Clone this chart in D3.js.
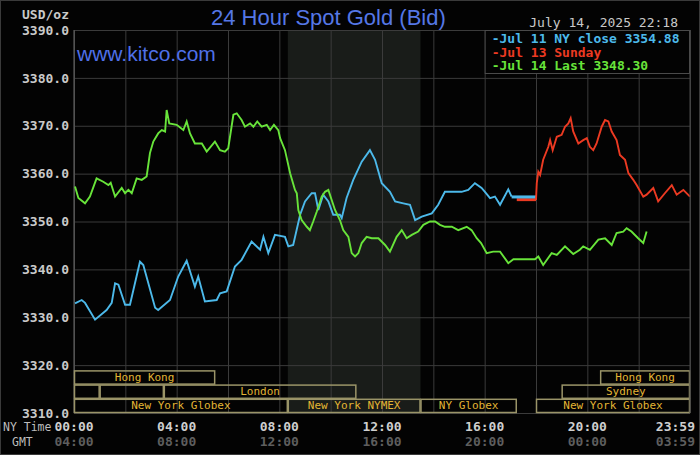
<!DOCTYPE html>
<html>
<head>
<meta charset="utf-8">
<script src="https://cdn.jsdelivr.net/npm/d3@7"></script>
<style>
  body { margin:0; background:#000; }
  svg { display:block; }
  .mono { font-family:"DejaVu Sans Mono", monospace; }
</style>
</head>
<body>
<div id="plot"></div>
<script>
// chart values (hour of NY day, price)
var yTicks = [3310, 3320, 3330, 3340, 3350, 3360, 3370, 3380, 3390];
var xTicks = [0, 4, 8, 12, 16, 20, 24];
var nyLabels = ['00:00', '04:00', '08:00', '12:00', '16:00', '20:00', '23:59'];
var gmtLabels = ['04:00', '08:00', '12:00', '16:00', '20:00', '00:00', '03:59'];
var gridHours = d3.range(0, 25, 2);

var jul11 = [
	[0.04,3332.9],[0.30,3333.6],[0.43,3333.0],[0.82,3329.5],[1.27,3331.5],[1.47,3333.0],
	[1.60,3337.1],[1.73,3336.8],[1.99,3332.6],[2.18,3332.6],[2.57,3341.6],[2.70,3340.9],
	[3.16,3332.0],[3.28,3331.5],[3.74,3333.6],[4.06,3338.5],[4.39,3341.8],[4.71,3336.4],
	[4.84,3338.5],[5.10,3333.3],[5.56,3333.6],[5.69,3335.0],[5.95,3335.4],[6.27,3340.6],
	[6.53,3342.0],[6.92,3345.8],[7.25,3344.1],[7.38,3346.8],[7.57,3343.4],[7.83,3347.2],
	[8.22,3346.8],[8.35,3344.8],[8.54,3345.1],[8.81,3351.4],[9.00,3354.2],[9.26,3355.9],
	[9.39,3355.9],[9.52,3352.4],[9.71,3355.6],[9.91,3354.2],[10.10,3351.4],[10.36,3351.4],
	[10.43,3350.7],[10.62,3354.9],[10.88,3358.7],[11.21,3362.5],[11.53,3364.9],[11.73,3362.9],
	[11.99,3358.0],[12.31,3356.2],[12.51,3354.2],[12.83,3353.8],[13.09,3353.5],[13.29,3350.3],
	[13.55,3351.0],[13.94,3351.7],[14.19,3353.5],[14.45,3356.2],[14.84,3356.2],[15.10,3356.2],
	[15.36,3356.6],[15.62,3358.0],[15.88,3357.0],[16.01,3356.2],[16.21,3354.9],[16.40,3355.2],
	[16.60,3353.5],[16.92,3356.7],[17.05,3355.2]
];
var jul11Close = 3354.88;
var closeSpan = [17.05, 18.0];
var sundaySpan = [17.25, 18.0];

var jul13 = [
	[18.00,3354.5],[18.03,3358.0],[18.09,3360.4],[18.16,3359.7],[18.28,3362.9],[18.48,3365.6],
	[18.55,3367.0],[18.65,3364.9],[18.81,3367.7],[19.00,3368.1],[19.13,3369.8],[19.26,3370.5],
	[19.35,3371.6],[19.45,3368.8],[19.65,3366.3],[19.84,3367.0],[19.98,3367.4],[20.10,3365.6],
	[20.23,3364.9],[20.36,3366.3],[20.56,3369.8],[20.69,3371.2],[20.82,3370.9],[20.95,3368.8],
	[21.14,3367.0],[21.27,3363.9],[21.47,3362.9],[21.60,3360.1],[21.79,3358.7],[21.92,3357.6],
	[22.18,3355.2],[22.31,3355.6],[22.57,3357.0],[22.76,3354.2],[23.02,3355.9],[23.29,3357.6],
	[23.48,3355.6],[23.74,3356.6],[24.00,3355.2]
];

var jul14 = [
	[0.04,3357.3],[0.17,3354.9],[0.43,3353.8],[0.62,3355.2],[0.88,3359.0],[1.14,3358.3],
	[1.34,3357.6],[1.43,3358.1],[1.60,3355.2],[1.86,3357.0],[1.99,3355.9],[2.12,3356.6],
	[2.25,3355.9],[2.44,3359.0],[2.64,3358.7],[2.83,3359.4],[2.96,3364.3],[3.09,3366.7],
	[3.28,3368.4],[3.42,3369.1],[3.55,3368.8],[3.61,3373.3],[3.71,3370.5],[4.00,3370.2],
	[4.26,3369.1],[4.39,3370.9],[4.52,3368.4],[4.71,3366.3],[4.98,3366.3],[5.17,3364.6],
	[5.49,3366.7],[5.69,3364.9],[5.88,3364.6],[6.01,3365.3],[6.21,3372.3],[6.34,3372.6],
	[6.53,3371.2],[6.66,3369.8],[6.86,3370.5],[6.99,3369.8],[7.14,3370.9],[7.31,3369.8],
	[7.51,3370.2],[7.64,3369.1],[7.79,3370.2],[7.96,3369.1],[8.03,3367.4],[8.22,3364.9],
	[8.42,3360.1],[8.61,3356.6],[8.68,3355.9],[8.74,3352.4],[8.87,3350.3],[9.07,3348.9],
	[9.19,3348.2],[9.32,3350.0],[9.46,3352.1],[9.65,3355.2],[9.78,3356.2],[9.91,3356.6],
	[10.04,3354.5],[10.17,3352.4],[10.36,3350.3],[10.49,3348.2],[10.69,3346.8],[10.82,3343.4],
	[10.95,3342.7],[11.08,3343.4],[11.21,3345.5],[11.40,3346.8],[11.60,3346.5],[11.86,3346.5],
	[12.12,3345.1],[12.31,3343.7],[12.57,3346.8],[12.77,3348.2],[12.96,3346.5],[13.16,3347.2],
	[13.41,3347.9],[13.61,3349.3],[13.87,3350.0],[14.07,3350.0],[14.26,3349.3],[14.45,3348.9],
	[14.72,3348.9],[14.97,3348.2],[15.30,3348.9],[15.49,3348.2],[15.69,3346.5],[15.86,3345.5],
	[16.08,3343.4],[16.33,3343.7],[16.60,3343.7],[16.92,3341.3],[17.12,3342.1],[17.96,3342.1],
	[18.09,3342.7],[18.28,3340.9],[18.61,3343.4],[18.81,3343.0],[19.13,3344.8],[19.45,3343.2],
	[19.71,3344.1],[19.84,3344.8],[20.10,3344.1],[20.43,3346.2],[20.69,3346.5],[20.95,3345.1],
	[21.14,3347.6],[21.40,3347.9],[21.53,3348.6],[21.72,3347.9],[21.98,3346.5],[22.18,3345.5],
	[22.31,3347.9]
];

var nymexHours = [8.33, 13.5];

// trading sessions: [row, start hour, end hour, name]
var sessions = [
	[0, 0, 5.5, 'Hong Kong'],
	[0, 20.5, 24, 'Hong Kong'],
	[1, 0, 1, ''],
	[1, 1, 3.5, ''],
	[1, 3.5, 11, 'London'],
	[1, 19, 24, 'Sydney'],
	[2, 0, 8.33, 'New York Globex'],
	[2, 8.33, 13.5, 'New York NYMEX'],
	[2, 13.5, 17.25, 'NY Globex'],
	[2, 18, 24, 'New York Globex']
];

var legendItems = [
	['-Jul 11 NY close 3354.88', '#4cb9ea'],
	['-Jul 13 Sunday', '#ec3a22'],
	['-Jul 14 Last 3348.30', '#68e43a']
];

//Set up the drawing environment here
var margin = {t:30, r:10, b:42, l:74};
var W = 700, H = 455;
var width = W - margin.l - margin.r,
	height = H - margin.t - margin.b;

var svg = d3.select('#plot')
	.append('svg')
	.attr('width', W)
	.attr('height', H);

svg.append('rect')
	.attr('x', 0.5).attr('y', 0.5)
	.attr('width', W-1).attr('height', H-1)
	.style('fill', '#030303')
	.style('stroke', '#3a3a3a');

var plot = svg.append('g')
	.attr('transform', 'translate(' + margin.l + ',' + margin.t + ')');

var x = d3.scaleLinear().domain([0, 24]).range([0, width]);
var y = d3.scaleLinear().domain([3310, 3390]).range([height, 0]);

// NYMEX hours shading
plot.append('rect')
	.attr('x', x(nymexHours[0]))
	.attr('y', 0)
	.attr('width', x(nymexHours[1]) - x(nymexHours[0]))
	.attr('height', height)
	.style('fill', '#191c19');

// grid
var yAxis = plot.append('g')
	.attr('class', 'mono')
	.call(d3.axisLeft(y).tickValues(yTicks).tickSize(-width).tickFormat(d3.format('.1f')));
yAxis.select('.domain').remove();
yAxis.selectAll('line').style('stroke', '#3b3b3b');
yAxis.selectAll('text')
	.attr('x', -5)
	.style('fill', '#c9c9c9')
	.style('font-size', '13px')
	.style('font-weight', 'bold');

var xGrid = plot.append('g')
	.call(d3.axisTop(x).tickValues(gridHours).tickSize(-height).tickFormat(''));
xGrid.select('.domain').remove();
xGrid.selectAll('line').style('stroke', '#3b3b3b');

plot.append('line')
	.attr('x1', 0).attr('x2', 0).attr('y1', 0).attr('y2', height)
	.style('stroke', '#6a6a6a');

// session bars
var rowH = 14.2;
var rowTop = height - 3*rowH;
var sess = plot.selectAll('.session')
	.data(sessions)
	.enter()
	.append('g')
	.attr('class', 'session');

sess.append('rect')
	.attr('x', function(d){ return x(d[1]) + 0.5; })
	.attr('y', function(d){ return rowTop + d[0]*rowH + 0.5; })
	.attr('width', function(d){ return x(d[2]) - x(d[1]) - 1; })
	.attr('height', rowH - 1)
	.style('fill', 'none')
	.style('stroke', '#9a9468')
	.style('stroke-width', 1.5);

sess.append('text')
	.attr('class', 'mono')
	.attr('x', function(d){ return (x(d[1]) + x(d[2]))/2; })
	.attr('y', function(d){ return rowTop + d[0]*rowH + 10.5; })
	.attr('text-anchor', 'middle')
	.style('fill', '#e2b534')
	.style('font-size', '11px')
	.text(function(d){ return d[3]; });

// price lines
var line = d3.line()
	.x(function(d){ return x(d[0]); })
	.y(function(d){ return y(d[1]); });

plot.append('path')
	.datum(jul11)
	.attr('d', line)
	.style('fill', 'none')
	.style('stroke', '#4cb9ea')
	.style('stroke-width', 1.9);

plot.append('line')
	.attr('x1', x(sundaySpan[0])).attr('x2', x(sundaySpan[1]))
	.attr('y1', y(jul11Close) + 1.5).attr('y2', y(jul11Close) + 1.5)
	.style('stroke', '#ec3a22')
	.style('stroke-width', 3);

plot.append('line')
	.attr('x1', x(closeSpan[0])).attr('x2', x(closeSpan[1]))
	.attr('y1', y(jul11Close) - 1.2).attr('y2', y(jul11Close) - 1.2)
	.style('stroke', '#4cb9ea')
	.style('stroke-width', 3);

plot.append('path')
	.datum(jul13)
	.attr('d', line)
	.style('fill', 'none')
	.style('stroke', '#ec3a22')
	.style('stroke-width', 1.9);

plot.append('path')
	.datum(jul14)
	.attr('d', line)
	.style('fill', 'none')
	.style('stroke', '#68e43a')
	.style('stroke-width', 1.9);

// right frame
plot.append('line')
	.attr('x1', width).attr('x2', width).attr('y1', 0).attr('y2', height)
	.style('stroke', '#4a4a4a');

// legend
var legend = plot.append('g')
	.attr('transform', 'translate(' + x(16) + ',0)');
legend.append('rect')
	.attr('x', 0.5).attr('y', 0.5)
	.attr('width', width - x(16) - 1)
	.attr('height', 43)
	.style('fill', '#030303')
	.style('stroke', '#4a4a4a');
legend.selectAll('text')
	.data(legendItems)
	.enter()
	.append('text')
	.attr('class', 'mono')
	.attr('x', 7)
	.attr('y', function(d, i){ return 13 + i*13.5; })
	.style('fill', function(d){ return d[1]; })
	.style('font-size', '13px')
	.style('font-weight', 'bold')
	.text(function(d){ return d[0]; });

// x labels
var xLab = svg.append('g').attr('class', 'mono');
xLab.selectAll('.ny')
	.data(xTicks)
	.enter()
	.append('text')
	.attr('x', function(d){ return margin.l + x(d) + (d == 24 ? 5 : 0); })
	.attr('y', 431)
	.attr('text-anchor', function(d){ return d == 24 ? 'end' : 'middle'; })
	.style('fill', '#cfcfcf')
	.style('font-size', '13px')
	.style('font-weight', 'bold')
	.text(function(d, i){ return nyLabels[i]; });
xLab.selectAll('.gmt')
	.data(xTicks)
	.enter()
	.append('text')
	.attr('x', function(d){ return margin.l + x(d) + (d == 24 ? 5 : 0); })
	.attr('y', 446)
	.attr('text-anchor', function(d){ return d == 24 ? 'end' : 'middle'; })
	.style('fill', '#5e5e5e')
	.style('font-size', '13px')
	.style('font-weight', 'bold')
	.text(function(d, i){ return gmtLabels[i]; });
xLab.append('text')
	.attr('x', 3).attr('y', 431)
	.style('fill', '#bdbdbd').style('font-size', '11.5px')
	.text('NY Time');
xLab.append('text')
	.attr('x', 12).attr('y', 446)
	.style('fill', '#bdbdbd').style('font-size', '11.5px')
	.text('GMT');

// titles
svg.append('text')
	.attr('class', 'mono')
	.attr('x', 69).attr('y', 19)
	.attr('text-anchor', 'end')
	.style('fill', '#c9c9c9')
	.style('font-size', '13px')
	.style('font-weight', 'bold')
	.text('USD/oz');

svg.append('text')
	.attr('x', 211).attr('y', 25)
	.style('font-family', '"Liberation Sans", Arial, sans-serif')
	.style('font-size', '22px')
	.style('fill', '#5577e6')
	.text('24 Hour Spot Gold (Bid)');

svg.append('text')
	.attr('x', 77).attr('y', 61)
	.style('font-family', '"Liberation Sans", Arial, sans-serif')
	.style('font-size', '21px')
	.style('fill', '#4f70e8')
	.text('www.kitco.com');

svg.append('text')
	.attr('class', 'mono')
	.attr('x', 678).attr('y', 27)
	.attr('text-anchor', 'end')
	.style('fill', '#c9c9c9')
	.style('font-size', '13px')
	.text('July 14, 2025 22:18');
</script>
</body>
</html>
